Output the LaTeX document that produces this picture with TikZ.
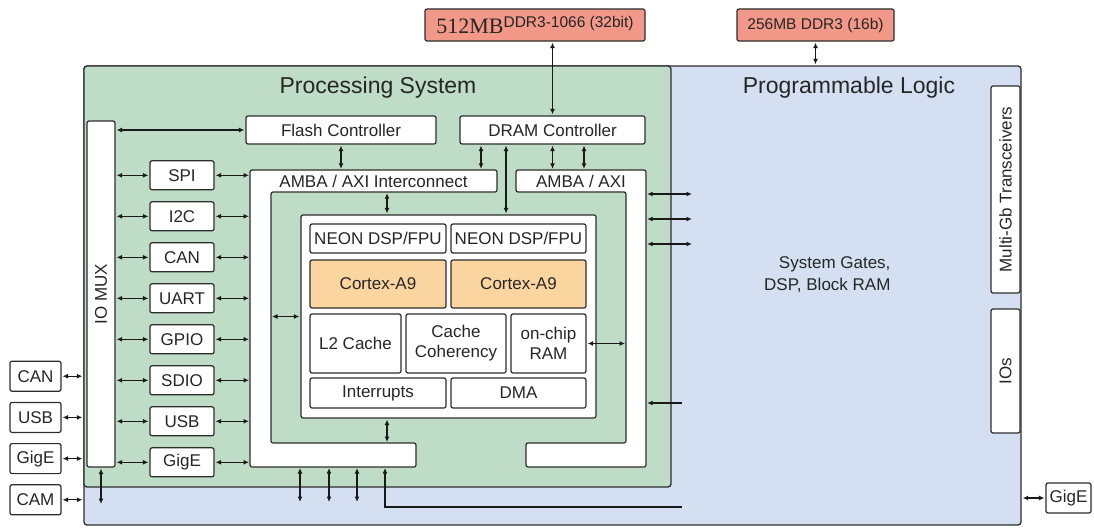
\documentclass[tikz,border=0pt]{standalone}
\usepackage{fontspec}
\setmainfont{Liberation Sans}
\newfontfamily\ddrserif{Liberation Serif}
\usetikzlibrary{arrows.meta,positioning,matrix}

\definecolor{psgreen}{RGB}{190,220,198}
\definecolor{plblue}{RGB}{212,224,241}
\definecolor{ddrred}{RGB}{242,152,136}
\definecolor{coreorange}{RGB}{251,213,160}
\definecolor{edge}{RGB}{45,45,45}

\begin{document}
\begin{tikzpicture}[
x=1pt, y=-1pt,
font=\fontsize{17}{20}\selectfont,
>={Latex[length=5.5pt,width=5pt]},
block/.style={
    draw=edge,
    fill=white,
    line width=1.2pt,
    rounded corners=2pt,
    inner sep=0pt,
    align=center,
    text=black!85
    },
region/.style={draw=edge, line width=1.3pt, rounded corners=3pt, inner sep=0pt},
memchip/.style={block, fill=ddrred, minimum height=32pt, font=\fontsize{15.5}{18}\selectfont},
core/.style={block, fill=coreorange},
bus/.style={draw=edge, fill=white, line width=1.2pt, rounded corners=2pt},
buslabel/.style={minimum height=22pt, inner sep=0pt, text=black!85},
link/.style={<->, draw=black!90, line width=1.2pt, shorten <=1pt, shorten >=1pt},
title/.style={font=\fontsize{23}{26}\selectfont, text=black!85},
periphcol/.style={
    matrix of nodes,
    nodes={block, minimum width=64pt, minimum height=29pt},
    row sep=10.8pt
    },
portcol/.style={
    matrix of nodes,
    nodes={block, minimum width=51pt, minimum height=30pt},
    row sep=10pt
    }
]
\useasboundingbox (0,0) rectangle (1094,527);

% the two halves of the chip
\node[region, fill=plblue, minimum width=937pt, minimum height=459pt] (pl) at (552.5,295.5) {};
\node[region, fill=psgreen, minimum width=587pt, minimum height=421pt] (ps) at (377.5,276.5) {};
\node[title] (pstitle) at (378,88) {Processing System};
\node[title] (pltitle) at (849,88) {Programmable Logic};

% external memory
\node[memchip, minimum width=220pt] (ddrA) at (535,25) {{\ddrserif\fontsize{22}{22}\selectfont 512MB}\raisebox{6pt}{DDR3-1066 (32bit)}};
\node[memchip, minimum width=157pt] (ddrB) at (815.5,25) {256MB DDR3 (16b)};

% io mux and peripherals
\node[block, minimum width=28pt, minimum height=346pt] (iomux) at (101,294) {};
\node[rotate=90, text=black!85] (iomuxtext) at (iomux) {IO MUX};
\matrix[periphcol] (periph) at (182,318.8) {SPI\\I2C\\CAN\\UART\\GPIO\\SDIO\\USB\\GigE\\};
\matrix[portcol] (ports) at (35.5,438) {CAN\\USB\\GigE\\CAM\\};

\node[block, minimum width=190pt, minimum height=28pt] (flash) at (341,130) {Flash Controller};
\node[block, minimum width=185pt, minimum height=28pt] (dram) at (552.5,130) {DRAM Controller};

% interconnect frames
\draw[bus] (250,170) -- (497,170) -- (497,192) -- (271,192) -- (271,443) -- (416,443) -- (416,467) -- (250,467) -- cycle;
\draw[bus] (516,170) -- (646,170) -- (646,467) -- (526,467) -- (526,443) -- (626,443) -- (626,192) -- (516,192) -- cycle;
\coordinate (ambaLin) at (271,443);
\coordinate (ambaLout) at (250,467);
\coordinate (ambaRin) at (626,443);
\node[buslabel, minimum width=247pt] (ambaL) at (373.5,181) {AMBA / AXI Interconnect};
\node[buslabel, minimum width=130pt] (ambaR) at (581,181) {AMBA / AXI};

% processor cluster
\node[block, minimum width=295pt, minimum height=203pt] (cpu) at (448.5,316.5) {};
\node[block, minimum width=136pt, minimum height=29pt] (neonA) at (378,238.5) {NEON DSP/FPU};
\node[block, minimum width=135pt, minimum height=29pt] (neonB) at (518.5,238.5) {NEON DSP/FPU};
\node[core, minimum width=136pt, minimum height=48pt] (coreA) at (378,284) {Cortex-A9};
\node[core, minimum width=135pt, minimum height=48pt] (coreB) at (518.5,284) {Cortex-A9};
\node[block, minimum width=91pt, minimum height=59pt] (ltwo) at (355.5,343.5) {L2 Cache};
\node[block, minimum width=100pt, minimum height=59pt] (scu) at (456,343.5) {Cache\\Coherency};
\node[block, minimum width=75pt, minimum height=59pt] (ocm) at (548.5,343.5) {on-chip\\RAM};
\node[block, minimum width=136pt, minimum height=30pt] (irq) at (378,393) {Interrupts};
\node[block, minimum width=135pt, minimum height=30pt] (dma) at (518.5,393) {DMA};

% programmable logic side
\node[block, minimum width=207pt, minimum height=29pt, rotate=90] (mgt) at (1005.5,189.5) {Multi-Gb Transceivers};
\node[block, minimum width=124pt, minimum height=29pt, rotate=90] (ios) at (1005.5,371) {IOs};
\node[block, minimum width=45pt, minimum height=30pt] (gigeR) at (1068.5,498) {GigE};
\node[align=right, anchor=east, text=black!85, font=\fontsize{17}{22}\selectfont] (fabric) at (894,275) {System Gates,\\DSP, Block RAM};

% free ends
\coordinate (muxbus) at (101,505);
\coordinate (busA) at (300,503);
\coordinate (busB) at (329,503);
\coordinate (busC) at (357,503);
\coordinate (busD) at (385,507);
\coordinate (busE) at (683,507);
\coordinate (plA) at (693,194);
\coordinate (plB) at (693,219);
\coordinate (plC) at (693,244);
\coordinate (plD) at (683,403);

% connections
\draw[link] (dram.north |- ddrA.south) -- (dram.north);
\draw[link] (ddrB.south) -- (ddrB.south |- pl.north);
\draw[link] (iomux.east |- flash.west) -- (flash.west);
\draw[link] (flash.south) -- (flash.south |- ambaL.north);
\draw[link] ([xshift=-71.5pt]dram.south) -- ([xshift=-71.5pt]dram.south |- ambaL.north);
\draw[link] ([xshift=-46.5pt]dram.south) -- ([xshift=-46.5pt]dram.south |- cpu.north);
\draw[link] (dram.south) -- (dram.south |- ambaR.north);
\draw[link] ([xshift=31.5pt]dram.south) -- ([xshift=31.5pt]dram.south |- ambaR.north);
\foreach \r in {1,...,8} {
    \draw[link] (iomux.east |- periph-\r-1.west) -- (periph-\r-1.west);
    \draw[link] (periph-\r-1.east) -- (periph-\r-1.east -| ambaLout);
}
\foreach \r in {1,...,4}
    \draw[link] (ports-\r-1.east) -- (ports-\r-1.east -| pl.west);
\draw[link] (iomux.south) -- (muxbus);
\draw[link] ([xshift=-61.5pt]cpu.north) -- ([xshift=-61.5pt]cpu.north |- ambaL.south);
\draw[link] ([xshift=-61.5pt]cpu.south) -- ([xshift=-61.5pt]cpu.south |- ambaLin);
\draw[link] (cpu.west) -- (cpu.west -| ambaLin);
\draw[link] (ocm.east) -- (ocm.east -| ambaRin);
\draw[link] (busA) -- (busA |- ambaLout);
\draw[link] (busB) -- (busB |- ambaLout);
\draw[link] (busC) -- (busC |- ambaLout);
\draw[link, <-] (busD |- ambaLout) -- (busD) -- (busE);
\draw[link] (plA) -- (plA -| ambaR.east);
\draw[link] (plB) -- (plB -| ambaR.east);
\draw[link] (plC) -- (plC -| ambaR.east);
\draw[link, ->] (plD) -- (plD -| ambaR.east);
\draw[link] (gigeR.west) -- (gigeR.west -| pl.east);

\end{tikzpicture}
\end{document}
